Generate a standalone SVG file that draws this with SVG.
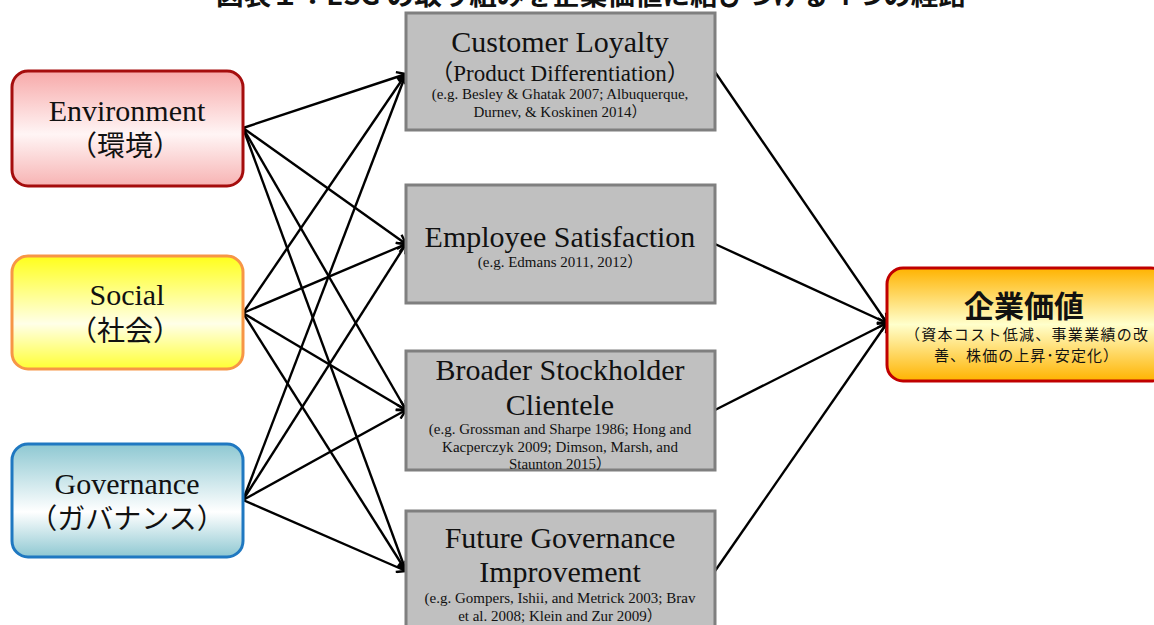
<svg xmlns="http://www.w3.org/2000/svg" width="1154" height="625" viewBox="0 0 1154 625">
  <defs>
    <linearGradient id="gEnv" x1="0" y1="0" x2="0" y2="1">
      <stop offset="0" stop-color="#f7a9a9"/>
      <stop offset="0.55" stop-color="#fff5f5"/>
      <stop offset="1" stop-color="#f7b3b3"/>
    </linearGradient>
    <linearGradient id="gSoc" x1="0" y1="0" x2="0" y2="1">
      <stop offset="0" stop-color="#ffff1a"/>
      <stop offset="0.6" stop-color="#ffffe8"/>
      <stop offset="1" stop-color="#ffff33"/>
    </linearGradient>
    <linearGradient id="gGov" x1="0" y1="0" x2="0" y2="1">
      <stop offset="0" stop-color="#8ec8d2"/>
      <stop offset="0.6" stop-color="#ffffff"/>
      <stop offset="1" stop-color="#8ec8d2"/>
    </linearGradient>
    <linearGradient id="gVal" x1="0" y1="0" x2="0" y2="1">
      <stop offset="0" stop-color="#ffb300"/>
      <stop offset="0.5" stop-color="#ffffcc"/>
      <stop offset="1" stop-color="#ffb300"/>
    </linearGradient>
    <marker id="arrow" markerWidth="12" markerHeight="12" refX="10" refY="6" orient="auto" markerUnits="userSpaceOnUse">
      <path d="M1,1 L10,6 L1,11" fill="none" stroke="#000" stroke-width="2.4"/>
    </marker>
    <style>
      .serif { font-family: "Liberation Serif", "Noto Sans CJK JP", serif; fill: #111; }
      .cjk { font-family: "Noto Sans CJK JP", sans-serif; fill: #111; }
      .big { font-size: 30px; }
      .mid { font-size: 23px; }
      .ref { font-size: 15px; }
      .src { font-size: 30px; }
      .srcj { font-size: 28px; }
      .mbox { fill: #c0c0c0; stroke: #7f7f7f; stroke-width: 3; }
      .edge { fill: none; stroke: #000; stroke-width: 2.4; marker-end: url(#arrow); }
    </style>
  </defs>

  <!-- heading -->
  <text x="216" y="5" class="cjk" font-size="26" font-weight="bold" textLength="750" lengthAdjust="spacingAndGlyphs">図表１：ESG の取り組みを企業価値に結びつける４つの経路</text>

  <!-- connectors -->
  <g id="connectors">
    <path class="edge" d="M243,128 L406,74"/>
    <path class="edge" d="M243,128 L406,244"/>
    <path class="edge" d="M243,128 L406,410"/>
    <path class="edge" d="M243,128 L406,571"/>
    <path class="edge" d="M243,313 L406,74"/>
    <path class="edge" d="M243,313 L406,244"/>
    <path class="edge" d="M243,313 L406,410"/>
    <path class="edge" d="M243,313 L406,571"/>
    <path class="edge" d="M243,500 L406,74"/>
    <path class="edge" d="M243,500 L406,244"/>
    <path class="edge" d="M243,500 L406,410"/>
    <path class="edge" d="M243,500 L406,571"/>
    <path class="edge" d="M715,72 L887,323"/>
    <path class="edge" d="M715,244 L887,323"/>
    <path class="edge" d="M715,410 L887,323"/>
    <path class="edge" d="M715,571 L887,323"/>
  </g>

  <!-- sources -->
  <g id="environment">
    <rect x="12" y="71" width="231" height="115" rx="16" fill="url(#gEnv)" stroke="#a50d0d" stroke-width="3"/>
    <text x="127" y="121" text-anchor="middle" class="serif src">Environment</text>
    <text x="125" y="156" text-anchor="middle" class="cjk srcj">（環境）</text>
  </g>
  <g id="social">
    <rect x="12" y="256" width="231" height="113" rx="16" fill="url(#gSoc)" stroke="#f79646" stroke-width="3"/>
    <text x="127" y="305" text-anchor="middle" class="serif src">Social</text>
    <text x="125" y="341" text-anchor="middle" class="cjk srcj">（社会）</text>
  </g>
  <g id="governance">
    <rect x="12" y="444" width="231" height="113" rx="16" fill="url(#gGov)" stroke="#1f78c1" stroke-width="3"/>
    <text x="127" y="494" text-anchor="middle" class="serif src">Governance</text>
    <text x="127" y="529" text-anchor="middle" class="cjk srcj">（ガバナンス）</text>
  </g>

  <!-- channels -->
  <g id="customer-loyalty">
    <rect x="406" y="13" width="309" height="117" class="mbox"/>
    <text x="560" y="52" text-anchor="middle" class="serif big">Customer Loyalty</text>
    <text x="560" y="81" text-anchor="middle" class="serif mid">（Product Differentiation）</text>
    <text x="560" y="99" text-anchor="middle" class="serif ref">(e.g. Besley &amp; Ghatak 2007; Albuquerque,</text>
    <text x="560" y="117" text-anchor="middle" class="serif ref">Durnev, &amp; Koskinen  2014）</text>
  </g>
  <g id="employee-satisfaction">
    <rect x="406" y="185" width="309" height="118" class="mbox"/>
    <text x="560" y="247" text-anchor="middle" class="serif big">Employee Satisfaction</text>
    <text x="560" y="267" text-anchor="middle" class="serif ref">(e.g. Edmans 2011, 2012）</text>
  </g>
  <g id="stockholder-clientele">
    <rect x="406" y="351" width="309" height="119" class="mbox"/>
    <text x="560" y="380" text-anchor="middle" class="serif big">Broader Stockholder</text>
    <text x="560" y="415" text-anchor="middle" class="serif big">Clientele</text>
    <text x="560" y="434" text-anchor="middle" class="serif ref">(e.g. Grossman and Sharpe  1986; Hong and</text>
    <text x="560" y="452" text-anchor="middle" class="serif ref">Kacperczyk 2009; Dimson, Marsh, and</text>
    <text x="560" y="469" text-anchor="middle" class="serif ref">Staunton 2015）</text>
  </g>
  <g id="governance-improvement">
    <rect x="406" y="511" width="309" height="130" class="mbox"/>
    <text x="560" y="548" text-anchor="middle" class="serif big">Future Governance</text>
    <text x="560" y="582" text-anchor="middle" class="serif big">Improvement</text>
    <text x="560" y="603" text-anchor="middle" class="serif ref">(e.g. Gompers, Ishii,  and Metrick 2003; Brav</text>
    <text x="560" y="621" text-anchor="middle" class="serif ref">et al. 2008; Klein  and Zur 2009）</text>
  </g>

  <!-- outcome -->
  <g id="firm-value">
    <rect x="887" y="268" width="280" height="113" rx="16" fill="url(#gVal)" stroke="#c00000" stroke-width="3"/>
    <text x="1024" y="317" text-anchor="middle" class="cjk" font-size="30" font-weight="bold">企業価値</text>
    <text x="905" y="340" class="cjk" font-size="15" textLength="243" lengthAdjust="spacing">（資本コスト低減、事業業績の改</text>
    <text x="934" y="361" class="cjk" font-size="15" textLength="184" lengthAdjust="spacing">善、株価の上昇･安定化）</text>
  </g>
</svg>
